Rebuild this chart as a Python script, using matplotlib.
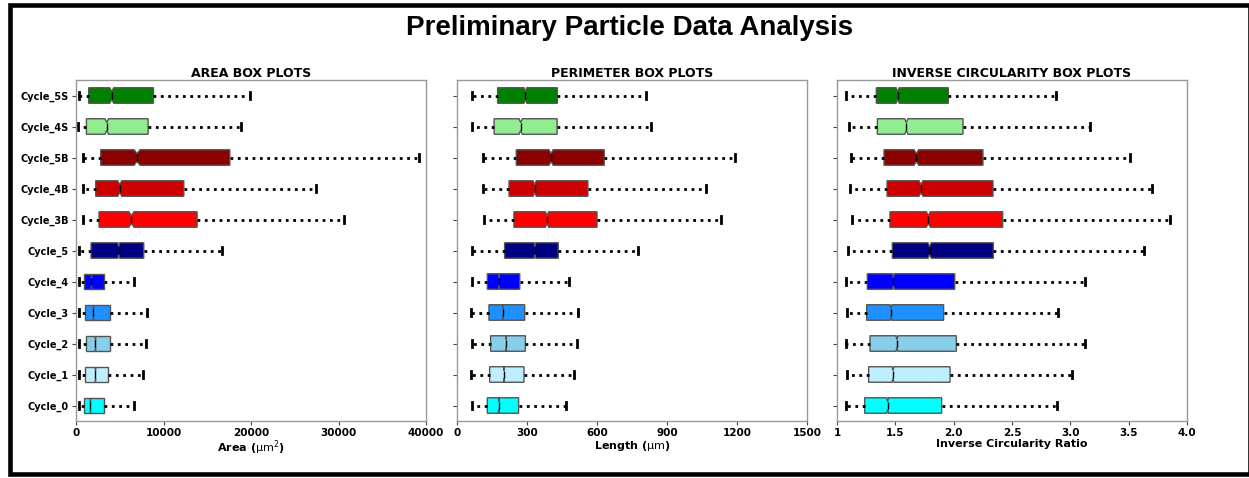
import matplotlib
matplotlib.use("Agg")
import matplotlib.pyplot as plt
from matplotlib.patches import Rectangle

# ---- data (bottom -> top) ----
categories = ["Cycle_0", "Cycle_1", "Cycle_2", "Cycle_3", "Cycle_4", "Cycle_5",
              "Cycle_3B", "Cycle_4B", "Cycle_5B", "Cycle_4S", "Cycle_5S"]
colors = ["#00FFFF", "#BFEFFF", "#87CEEB", "#1E90FF", "#0000FF", "#000080",
          "#FF0000", "#CC0000", "#8B0000", "#90EE90", "#008000"]

area_lo = [309, 309, 309, 309, 309, 309, 800, 800, 840, 270, 309]
area_q1 = [920, 1075, 1145, 1030, 920, 1720, 2635, 2254, 2825, 1190, 1453]
area_med = [1645, 2140, 2220, 1990, 1720, 4885, 6335, 5000, 6980, 3512, 4084]
area_q3 = [3245, 3660, 3890, 3890, 3245, 7745, 13840, 12320, 17580, 8240, 8850]
area_hi = [6600, 7665, 8010, 8165, 6635, 16700, 30590, 27460, 39170, 18840, 19835]
area_notch = [0, 0, 0, 0, 0, 115, 300, 230, 340, 200, 230]

per_lo = [64, 62, 64, 61, 64, 64, 114, 111, 111, 64, 64]
per_q1 = [130, 140, 144, 137, 130, 204, 244, 223, 254, 159, 174]
per_med = [179, 201, 211, 196, 180, 334, 386, 333, 403, 273, 293]
per_q3 = [264, 287, 293, 290, 269, 434, 600, 561, 631, 429, 430]
per_hi = [466, 501, 513, 517, 479, 777, 1130, 1069, 1190, 831, 811]
per_notch = [1.5, 1.5, 1.5, 1.5, 1.5, 4, 7, 7, 9, 7, 6]

circ_lo = [1.074, 1.083, 1.074, 1.083, 1.08, 1.094, 1.131, 1.114, 1.123, 1.10, 1.08]
circ_q1 = [1.237, 1.271, 1.283, 1.254, 1.26, 1.474, 1.454, 1.429, 1.403, 1.346, 1.337]
circ_med = [1.434, 1.48, 1.514, 1.463, 1.483, 1.794, 1.783, 1.72, 1.68, 1.594, 1.52]
circ_q3 = [1.897, 1.969, 2.023, 1.914, 2.009, 2.34, 2.42, 2.337, 2.251, 2.08, 1.954]
circ_hi = [2.883, 3.014, 3.123, 2.897, 3.129, 3.634, 3.857, 3.697, 3.509, 3.171, 2.877]
circ_notch = [0.008, 0.008, 0.008, 0.008, 0.008, 0.014, 0.017, 0.017, 0.02, 0.014, 0.014]

area_ticks = [0, 10000, 20000, 30000, 40000]
per_ticks = [0, 300, 600, 900, 1200, 1500]
circ_ticks = [1, 1.5, 2.0, 2.5, 3.0, 3.5, 4.0]
circ_ticklabels = ["1", "1.5", "2.0", "2.5", "3.0", "3.5", "4.0"]


def make_stats(lo, q1, med, q3, hi, notch):
    out = []
    for i in range(len(lo)):
        out.append(dict(whislo=lo[i], q1=q1[i], med=med[i], q3=q3[i], whishi=hi[i],
                        cilo=med[i] - notch[i], cihi=med[i] + notch[i], fliers=[]))
    return out


fig = plt.figure(figsize=(12.49, 4.78), dpi=100)
W, H = 1249, 478

panels = [
    ("AREA BOX PLOTS", r"Area ($\mathrm{\mu m^2}$)",
     make_stats(area_lo, area_q1, area_med, area_q3, area_hi, area_notch),
     (0, 40000), area_ticks, [str(t) for t in area_ticks], 76),
    ("PERIMETER BOX PLOTS", r"Length ($\mathrm{\mu m}$)",
     make_stats(per_lo, per_q1, per_med, per_q3, per_hi, per_notch),
     (0, 1500), per_ticks, [str(t) for t in per_ticks], 457),
    ("INVERSE CIRCULARITY BOX PLOTS", "Inverse Circularity Ratio",
     make_stats(circ_lo, circ_q1, circ_med, circ_q3, circ_hi, circ_notch),
     (1, 4), circ_ticks, circ_ticklabels, 837),
]

positions = list(range(1, len(categories) + 1))
for idx, (title, xlabel, stats, xlim, ticks, ticklabels, left_px) in enumerate(panels):
    ax = fig.add_axes([left_px / W, (H - 421) / H, 350 / W, 341 / H])
    bp = ax.bxp(stats, positions=positions, vert=False, widths=0.5, shownotches=True,
                patch_artist=True, showfliers=False,
                boxprops=dict(edgecolor="#555555", linewidth=1.0),
                medianprops=dict(color="black", linewidth=1.0),
                whiskerprops=dict(color="black", linewidth=2.0, linestyle=":"),
                capprops=dict(color="black", linewidth=2.0))
    for patch, c in zip(bp["boxes"], colors):
        patch.set_facecolor(c)
    ax.set_xlim(*xlim)
    ax.set_ylim(0.5, len(categories) + 0.5)
    ax.set_xticks(ticks)
    ax.set_xticklabels(ticklabels, fontsize=7.5, fontweight="bold")
    ax.set_yticks(positions)
    if idx == 0:
        ax.set_yticklabels(categories, fontsize=7, fontweight="bold")
    else:
        ax.set_yticklabels([])
    ax.set_title(title, fontsize=9, fontweight="bold", pad=2)
    ax.set_xlabel(xlabel, fontsize=8, fontweight="bold", labelpad=0.5)
    for s in ax.spines.values():
        s.set_color("#999999")
        s.set_linewidth(1.0)
    ax.tick_params(axis="both", colors="#444444", labelcolor="black", length=3, width=0.8, pad=2)

fig.text(0.504, 0.941, "Preliminary Particle Data Analysis", ha="center", va="center",
         fontsize=20, fontweight="bold", family="Liberation Sans")

fig.patches.append(Rectangle((9.5 / W, 4 / H), (W - 9.0) / W, (H - 9) / H,
                             transform=fig.transFigure, fill=False, edgecolor="black",
                             linewidth=3.3, zorder=10))

fig.savefig("out.png", dpi=100)
